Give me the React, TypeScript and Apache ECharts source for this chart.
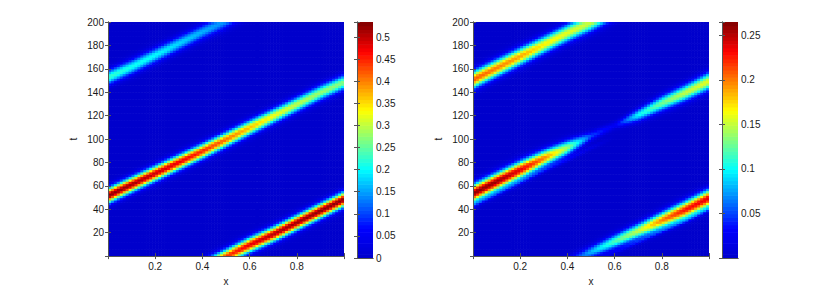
import React, { useEffect, useRef } from 'react';
import * as echarts from 'echarts';

const X_SAMPLES = [0, 0.1, 0.2, 0.3, 0.4, 0.5, 0.6, 0.7, 0.8, 0.9, 1.0];

// ---- left panel: three travelling bands (centre t, peak value, half width in t)
const L_A_CENTER = [153, 162, 172, 182, 192, 201, 211, 221, 231, 240, 250];
const L_A_AMP = [0.23, 0.21, 0.2, 0.18, 0.16, 0.14, 0.12, 0.1, 0.1, 0.1, 0.1];
const L_B_CENTER = [52, 61.5, 71, 80.5, 90, 100, 110, 120, 130, 140, 149];
const L_B_AMP = [0.53, 0.52, 0.5, 0.48, 0.45, 0.41, 0.37, 0.33, 0.3, 0.28, 0.27];
const L_C_CENTER = [-48, -38, -29, -19, -10, 0, 10, 19, 29, 39, 49];
const L_C_AMP = [0.3, 0.32, 0.34, 0.36, 0.4, 0.44, 0.48, 0.51, 0.52, 0.53, 0.53];
const L_WIDTH = [6, 6, 6, 6, 6, 6, 6, 6, 6, 6, 6];

// ---- right panel
const R_A_CENTER = [151, 161, 171, 181, 191, 200, 210, 220, 230, 240, 250];
const R_A_AMP = [0.21, 0.2, 0.19, 0.17, 0.16, 0.15, 0.14, 0.13, 0.12, 0.12, 0.12];
const R_A_WIDTH = [7, 7, 7, 7, 7, 7, 7, 7, 7, 7, 7];
const R_B_CENTER = [54, 64, 74, 84, 93, 103, 112, 121, 131, 140, 150];
const R_B_AMP = [0.262, 0.26, 0.24, 0.2, 0.14, 0.05, 0.025, 0.1, 0.13, 0.15, 0.16];
const R_B_WIDTH = [7, 7, 7, 6.5, 6, 4, 3, 5, 6, 6.5, 7];
const R_C_CENTER = [-42, -33, -24, -15, -5, 4, 13, 22, 31, 40, 50];
const R_C_AMP = [0, 0, 0, 0, 0.03, 0.08, 0.12, 0.15, 0.2, 0.23, 0.24];
const R_C_WIDTH = [5, 5, 5, 5, 5, 5, 5.5, 6, 6.5, 7, 7];
// faint trailing streaks
const R_SB_CENTER = [44, 54, 64, 74, 83, 93, 102, 111, 121, 130, 140];
const R_SB_AMP = [0.03, 0.03, 0.03, 0.03, 0.025, 0.015, 0, 0, 0, 0, 0];
const R_SC_CENTER = [-51, -42, -33, -24, -14, -5, 4, 13, 22, 31, 41];
const R_SC_AMP = [0, 0, 0, 0, 0, 0, 0.02, 0.03, 0.03, 0.03, 0.03];
const R_S_WIDTH = [2, 2, 2, 2, 2, 2, 2, 2, 2, 2, 2];

// axis ticks / colour ranges
const X_TICK_STEP = 0.2;
const T_TICK_STEP = 20;
const T_MAX = 200;
const CB_STEP = 0.05;
const LEFT_MAX = 0.534;
const RIGHT_MAX = 0.265;

const JET = ['#0000CC', '#0000FF', '#0080FF', '#00FFFF', '#80FF80', '#FFFF00', '#FF8000', '#FF0000', '#800000'];

type Band = { center: number[]; amp: number[]; width: number[] };

const LEFT_BANDS: Band[] = [
  { center: L_A_CENTER, amp: L_A_AMP, width: L_WIDTH },
  { center: L_B_CENTER, amp: L_B_AMP, width: L_WIDTH },
  { center: L_C_CENTER, amp: L_C_AMP, width: L_WIDTH },
];
const RIGHT_BANDS: Band[] = [
  { center: R_A_CENTER, amp: R_A_AMP, width: R_A_WIDTH },
  { center: R_B_CENTER, amp: R_B_AMP, width: R_B_WIDTH },
  { center: R_C_CENTER, amp: R_C_AMP, width: R_C_WIDTH },
  { center: R_SB_CENTER, amp: R_SB_AMP, width: R_S_WIDTH },
  { center: R_SC_CENTER, amp: R_SC_AMP, width: R_S_WIDTH },
];

const NX = 80;
const NT = 100;
const DX = 1 / NX;
const DT = T_MAX / NT;

function sample(arr: number[], x: number) {
  const p = x * (X_SAMPLES.length - 1);
  const i = Math.max(0, Math.min(Math.floor(p), arr.length - 2));
  const f = p - i;
  return arr[i] * (1 - f) + arr[i + 1] * f;
}

function buildField(bands: Band[]) {
  const out: number[][] = [];
  for (let i = 0; i < NX; i++) {
    const xc = (i + 0.5) * DX;
    const props = bands.map((b) => [sample(b.center, xc), sample(b.amp, xc), sample(b.width, xc)]);
    for (let j = 0; j < NT; j++) {
      const tc = (j + 0.5) * DT;
      let v = 0;
      for (const [c, a, w] of props) {
        const d = (tc - c) / w;
        v += a * Math.exp(-d * d);
      }
      out.push([i * DX, j * DT, v]);
    }
  }
  return out;
}

function buildBar(max: number) {
  const n = 64;
  const out: number[][] = [];
  for (let i = 0; i < n; i++) out.push([0, (i / n) * max, ((i + 0.5) / n) * max]);
  return out;
}

const cellRenderer = (w: number, h: number) => (_p: any, api: any) => {
  const x0 = api.value(0);
  const y0 = api.value(1);
  const a = api.coord([x0, y0 + h]);
  const b = api.coord([x0 + w, y0]);
  return {
    type: 'rect',
    shape: { x: a[0], y: a[1], width: b[0] - a[0] + 0.6, height: b[1] - a[1] + 0.6 },
    style: { fill: api.visual('color') },
  };
};

const FONT = { fontFamily: 'Liberation Sans, Arial, Helvetica, sans-serif', fontSize: 10, color: '#1a1a1a' };
const LINE = { show: true, lineStyle: { color: '#555', width: 1 } };
const TICK = { show: true, inside: true, length: 3, lineStyle: { color: '#555' } };

const isMultiple = (v: number, step: number) => Math.abs(v / step - Math.round(v / step)) < 1e-6;

function plotAxes(grid: number) {
  const xs = [
    {
      type: 'value', gridIndex: grid, position: 'bottom', min: 0, max: 1, interval: X_TICK_STEP, z: 5,
      name: 'x', nameLocation: 'middle', nameGap: 11, nameTextStyle: FONT,
      axisLine: LINE, axisTick: TICK, splitLine: { show: false },
      axisLabel: { ...FONT, margin: 5, formatter: (v: number) => (v > 0.001 && v < 0.999 ? String(Math.round(v * 10) / 10) : '') },
    },
    {
      type: 'value', gridIndex: grid, position: 'top', min: 0, max: 1, interval: X_TICK_STEP, z: 5,
      axisLine: LINE, axisTick: TICK, splitLine: { show: false }, axisLabel: { show: false },
    },
  ];
  const ys = [
    {
      type: 'value', gridIndex: grid, position: 'left', min: 0, max: T_MAX, interval: T_TICK_STEP, z: 5,
      name: 't', nameLocation: 'middle', nameGap: 30, nameRotate: 90, nameTextStyle: FONT,
      axisLine: LINE, axisTick: TICK, splitLine: { show: false },
      axisLabel: { ...FONT, margin: 4, formatter: (v: number) => (v > 0 ? String(v) : '') },
    },
    {
      type: 'value', gridIndex: grid, position: 'right', min: 0, max: T_MAX, interval: T_TICK_STEP, z: 5,
      axisLine: LINE, axisTick: TICK, splitLine: { show: false }, axisLabel: { show: false },
    },
  ];
  return { xs, ys };
}

function barAxes(grid: number, max: number, showZero: boolean) {
  const xs = [
    { type: 'value', gridIndex: grid, position: 'bottom', min: 0, max: 1, z: 5, axisLine: LINE, axisTick: { show: false }, axisLabel: { show: false }, splitLine: { show: false } },
    { type: 'value', gridIndex: grid, position: 'top', min: 0, max: 1, z: 5, axisLine: LINE, axisTick: { show: false }, axisLabel: { show: false }, splitLine: { show: false } },
  ];
  const ys = [
    { type: 'value', gridIndex: grid, position: 'left', min: 0, max, interval: CB_STEP, z: 5, axisLine: LINE, axisTick: TICK, axisLabel: { show: false }, splitLine: { show: false } },
    {
      type: 'value', gridIndex: grid, position: 'right', min: 0, max, interval: CB_STEP, z: 5,
      axisLine: LINE, axisTick: TICK, splitLine: { show: false },
      axisLabel: {
        ...FONT, margin: 3,
        formatter: (v: number) => {
          if (!isMultiple(v, CB_STEP)) return '';
          if (v === 0 && !showZero) return '';
          return String(Math.round(v * 100) / 100);
        },
      },
    },
  ];
  return { xs, ys };
}

export default function App() {
  const ref = useRef<HTMLDivElement>(null);
  useEffect(() => {
    if (!ref.current) return;
    const chart = echarts.init(ref.current, null, { renderer: 'svg' });
    const p0 = plotAxes(0);
    const b1 = barAxes(1, LEFT_MAX, true);
    const p2 = plotAxes(2);
    const b3 = barAxes(3, RIGHT_MAX, false);
    const leftField = buildField(LEFT_BANDS);
    const rightField = buildField(RIGHT_BANDS);
    const option: any = {
      animation: false,
      backgroundColor: '#ffffff',
      grid: [
        { left: 108, top: 22, width: 236, height: 236 },
        { left: 357, top: 22, width: 16, height: 236 },
        { left: 473, top: 22, width: 236, height: 236 },
        { left: 722, top: 22, width: 16, height: 236 },
      ],
      xAxis: [...p0.xs, ...b1.xs, ...p2.xs, ...b3.xs],
      yAxis: [...p0.ys, ...b1.ys, ...p2.ys, ...b3.ys],
      visualMap: [
        { type: 'continuous', show: false, min: 0, max: LEFT_MAX, dimension: 2, seriesIndex: [0, 1], inRange: { color: JET } },
        { type: 'continuous', show: false, min: 0, max: RIGHT_MAX, dimension: 2, seriesIndex: [2, 3], inRange: { color: JET } },
      ],
      series: [
        { type: 'custom', xAxisIndex: 0, yAxisIndex: 0, data: leftField, renderItem: cellRenderer(DX, DT), clip: true, silent: true, progressive: 0, encode: { x: 0, y: 1 } },
        { type: 'custom', xAxisIndex: 2, yAxisIndex: 3, data: buildBar(LEFT_MAX), renderItem: cellRenderer(1, LEFT_MAX / 64), clip: true, silent: true, progressive: 0, encode: { x: 0, y: 1 } },
        { type: 'custom', xAxisIndex: 4, yAxisIndex: 4, data: rightField, renderItem: cellRenderer(DX, DT), clip: true, silent: true, progressive: 0, encode: { x: 0, y: 1 } },
        { type: 'custom', xAxisIndex: 6, yAxisIndex: 7, data: buildBar(RIGHT_MAX), renderItem: cellRenderer(1, RIGHT_MAX / 64), clip: true, silent: true, progressive: 0, encode: { x: 0, y: 1 } },
      ],
    };
    chart.setOption(option);
    return () => chart.dispose();
  }, []);
  return <div ref={ref} style={{ position: 'fixed', left: 0, top: 0, width: 830, height: 291 }} />;
}
